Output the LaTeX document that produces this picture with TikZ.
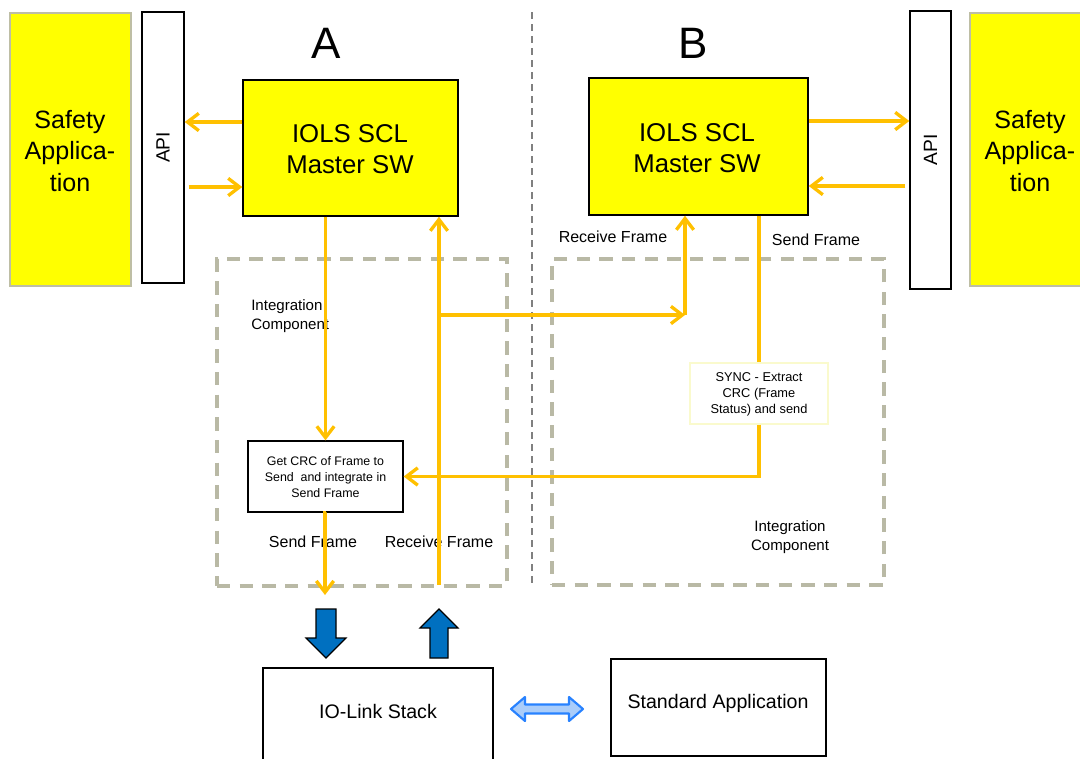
\documentclass[tikz,border=0pt]{standalone}
\usepackage{fontspec}
\setmainfont{Liberation Sans}
\usetikzlibrary{arrows.meta,fit}
\definecolor{oline}{HTML}{FFC000}
\definecolor{syel}{HTML}{FFFF00}
\definecolor{sborder}{RGB}{190,190,165}
\definecolor{dashc}{RGB}{185,185,165}
\definecolor{divc}{RGB}{128,128,128}
\definecolor{syncb}{RGB}{250,250,205}
\definecolor{blk}{HTML}{0070C0}
\definecolor{dblfill}{RGB}{170,205,250}
\definecolor{dbldraw}{RGB}{40,130,255}
\begin{document}
\begin{tikzpicture}[x=0.75pt,y=-0.75pt,
  box/.style={draw=black, line width=1.1pt, fill=white, inner sep=0pt},
  safebox/.style={draw=sborder, line width=2.2pt, fill=syel, inner sep=0pt},
  safetext/.style={align=center, inner sep=0pt, font=\fontsize{18.8}{23.3}\selectfont},
  iolsbox/.style={draw=black, line width=1.1pt, fill=syel, inner sep=0pt},
  iolstext/.style={align=center, inner sep=0pt, font=\fontsize{19.3}{23.3}\selectfont},
  apitext/.style={rotate=90, font=\fontsize{14.4}{17}\selectfont},
  dashbox/.style={draw=dashc, line width=2.5pt, dash pattern=on 10pt off 7pt, inner sep=0pt},
  divider/.style={draw=divc, line width=1.4pt, dash pattern=on 5pt off 4pt},
  oarr/.style={draw=oline, line width=2.5pt, -{Straight Barb[length=8.5pt,width=13pt]}},
  oline/.style={draw=oline, line width=2.5pt},
  lbl/.style={font=\fontsize{12}{15}\selectfont, inner sep=0pt},
  smalltxt/.style={font=\fontsize{11.3}{14.5}\selectfont, inner sep=0pt},
  boxtext/.style={align=center, inner sep=0pt},
  bigletter/.style={font=\fontsize{33}{38}\selectfont, inner sep=0pt},
  bluearrow/.style={fill=blk, draw=black, line width=0.9pt, line join=miter},
  dblarrow/.style={fill=dblfill, draw=dbldraw, line width=1.6pt, line join=round}
]
\useasboundingbox (0,0) rectangle (1080,758);

% Left side
\node[safebox, fit={(10,13) (131,286)}] (safeA) {};
\node[safetext] (safeAt) at (70,151) {Safety\\Applica-\\tion};
\node[box, fit={(142,12) (184,283)}] (apiA) {};
\node[apitext] (apiAt) at (apiA.center) {API};
\node[bigletter] (letA) at (326,43) {A};
\node[iolsbox, fit={(243,80) (458,216)}] (iolsA) {};
\node[iolstext] (iolsAt) at (350,149) {IOLS SCL\\Master SW};
\node[dashbox, fit={(217,259) (507,586)}] (intA) {};
\node[smalltxt, anchor=west, align=left] (intAt) at (251,316) {Integration\\Component};
\node[box, line width=1pt, fit={(248,441) (403,512)}] (crc) {};
\node[boxtext, font=\fontsize{9.3}{12}\selectfont] (crct) at (325.5,477) {Get CRC of Frame to\\Send\ \ and integrate in\\Send Frame};
\node[lbl] (sendA) at (313,542) {Send Frame};
\node[lbl] (recvA) at (439,542) {Receive Frame};

% Divider
\coordinate (divtop) at (532,12);
\coordinate (divbot) at (532,585);
\draw[divider] (divtop) -- (divbot);

% Right side
\node[bigletter] (letB) at (693,43) {B};
\node[iolsbox, fit={(589,78) (808,215)}] (iolsB) {};
\node[iolstext] (iolsBt) at (697,148) {IOLS SCL\\Master SW};
\node[box, fit={(910,11) (951,289)}] (apiB) {};
\node[apitext] (apiBt) at (apiB.center) {API};
\node[safebox, fit={(970,13) (1090,286)}] (safeB) {};
\node[safetext] (safeBt) at (1030,151) {Safety\\Applica-\\tion};
\node[dashbox, fit={(552,259) (884,585)}] (intB) {};
\node[lbl] (recvB) at (613,237) {Receive Frame};
\node[lbl] (sendB) at (816,240) {Send Frame};
\node[draw=syncb, line width=0.8pt, fill=white, inner sep=0pt, fit={(690,363) (828,424)}] (sync) {};
\node[boxtext, font=\fontsize{9.6}{12}\selectfont] (synct) at (759,394) {SYNC - Extract\\CRC (Frame\\Status) and send};
\node[smalltxt, align=center] (intBt) at (790,537) {Integration\\Component};

% Bottom
\node[box, fit={(263,668) (493,775)}] (stack) {};
\node[font=\fontsize{14.7}{17}\selectfont, inner sep=0pt] (stackt) at (378,711) {IO-Link Stack};
\node[box, fit={(611,659) (826,756)}] (stdapp) {};
\node[font=\fontsize{14.7}{17}\selectfont, inner sep=0pt] (stdappt) at (718,703) {Standard Application};

% Blue block arrows
\draw[bluearrow] (316,609) -- (336,609) -- (336,638) -- (346,638) -- (326,658) -- (306,638) -- (316,638) -- cycle;
\draw[bluearrow] (430,658) -- (448,658) -- (448,628) -- (458,628) -- (439,609) -- (420,628) -- (430,628) -- cycle;
\draw[dblarrow] (511,709) -- (525,697) -- (525,704.5) -- (569,704.5) -- (569,697) -- (583,709) -- (569,721) -- (569,713.5) -- (525,713.5) -- (525,721) -- cycle;

% Orange connectors, left
\draw[oarr] (iolsA.west |- 0,122) -- (apiA.east |- 0,122);
\draw[oarr] ([xshift=3pt]apiA.east |- 0,187) -- (iolsA.west |- 0,187);
\draw[oarr] (crc.north |- iolsA.south) -- (crc.north);
\coordinate (sendEnd) at (325,595);
\draw[oarr] (crc.south) -- (sendEnd |- crc.south) -- (sendEnd);
\coordinate (recvStart) at (439,585);
\draw[oarr] (recvStart) -- (recvStart |- iolsA.south);
\coordinate (j1) at (439,315);
\coordinate (j2) at (685,315);
\draw[oarr] (j1) -- (j2);
\draw[oarr] (j2) -- (j2 |- iolsB.south);

% Orange connectors, right
\draw[oline] (sync.north |- iolsB.south) -- (sync.north);
\draw[oarr] (sync.south) -- (sync.south |- crc.east) -- (crc.east);
\draw[oarr] (iolsB.east |- 0,121) -- (apiB.west |- 0,121);
\draw[oarr] ([xshift=-3pt]apiB.west |- 0,186) -- (iolsB.east |- 0,186);
\end{tikzpicture}
\end{document}
